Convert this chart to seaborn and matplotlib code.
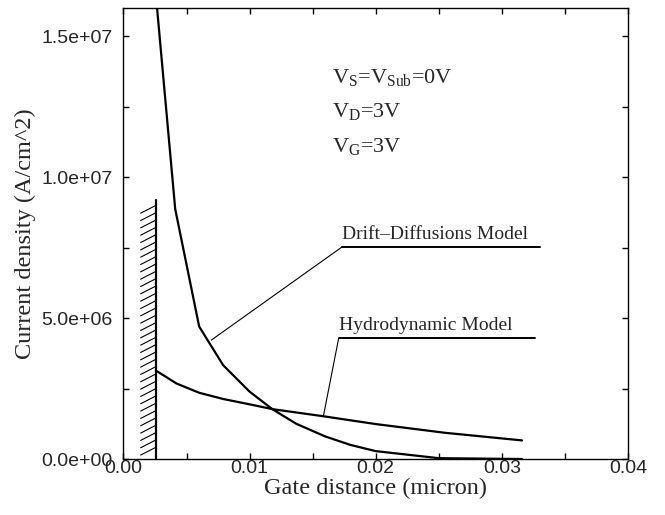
"""
Current density along the gate: drift-diffusion vs hydrodynamic model.
"""

import numpy as np
import pandas as pd
import matplotlib
matplotlib.use("Agg")
import matplotlib.pyplot as plt
from matplotlib.ticker import MultipleLocator, FormatStrFormatter, FuncFormatter
import seaborn as sns

# ── DATA ──────────────────────────────────────
dd_x = [0.0026, 0.0041, 0.0060, 0.0079, 0.0100, 0.0118, 0.0137, 0.0160, 0.0180, 0.0200, 0.0250, 0.0316]
dd_y = [1.63e7, 8.87e6, 4.70e6, 3.33e6, 2.39e6, 1.77e6, 1.25e6, 0.80e6, 0.50e6, 0.28e6, 0.03e6, 0.0]

hd_x = [0.0026, 0.0042, 0.0060, 0.0079, 0.0100, 0.0118, 0.0158, 0.0200, 0.0255, 0.0316]
hd_y = [3.13e6, 2.68e6, 2.35e6, 2.13e6, 1.94e6, 1.77e6, 1.52e6, 1.24e6, 0.93e6, 0.66e6]

wall_x = 0.0026
wall_top = 9.2e6

dd_label = "Drift\u2013Diffusions Model"
hd_label = "Hydrodynamic Model"
# (tip on curve, corner, end of underline)
dd_leader = [(0.00697, 4.22e6), (0.01735, 7.53e6), (0.0330, 7.53e6)]
hd_leader = [(0.01585, 1.52e6), (0.01706, 4.28e6), (0.0326, 4.28e6)]

bias_lines = [r"V$_\mathrm{S}$=V$_\mathrm{Sub}$=0V",
              r"V$_\mathrm{D}$=3V",
              r"V$_\mathrm{G}$=3V"]

# ── STYLE ─────────────────────────────────────
sns.set_theme(style="ticks")
plt.rcParams["font.family"] = ["Liberation Serif", "DejaVu Serif"]
plt.rcParams["mathtext.fontset"] = "custom"
plt.rcParams["mathtext.rm"] = "Liberation Serif"
plt.rcParams["axes.linewidth"] = 1.0
plt.rcParams["axes.edgecolor"] = "black"

SANS = ["Liberation Sans", "DejaVu Sans"]

fig = plt.figure(figsize=(6.65, 5.15), dpi=100, facecolor="white")
ax = fig.add_axes([0.1857, 0.1087, 0.7586, 0.8758])

df_dd = pd.DataFrame({"x": dd_x, "y": dd_y})
df_hd = pd.DataFrame({"x": hd_x, "y": hd_y})
sns.lineplot(data=df_dd, x="x", y="y", color="black", lw=1.6, ax=ax, sort=False)
sns.lineplot(data=df_hd, x="x", y="y", color="black", lw=1.6, ax=ax, sort=False)

# wall with hatching
ax.plot([wall_x, wall_x], [0, wall_top], color="black", lw=1.6)
dx = 0.00124
dy = 2.84e5
step = 2.6e5
y0 = 0.14e6
while y0 + dy <= wall_top - 1e5:
    ax.plot([wall_x - dx, wall_x], [y0, y0 + dy], color="black", lw=0.8)
    y0 += step

# leaders + labels
for pts, label in [(dd_leader, dd_label), (hd_leader, hd_label)]:
    (tx, ty), (cx, cy), (ex, ey) = pts
    ax.plot([tx, cx], [ty, cy], color="black", lw=0.8)
    ax.plot([cx, ex], [cy, ey], color="black", lw=1.4)
    ax.text(cx, cy + 1.5e5, label, fontsize=14, ha="left", va="bottom")

for i, line in enumerate(bias_lines):
    ax.text(0.01656, 1.333e7 - i * 1.22e6, line, fontsize=16, ha="left", va="baseline")

ax.set_xlim(0, 0.04)
ax.set_ylim(0, 1.6e7)
ax.xaxis.set_major_locator(MultipleLocator(0.01))
ax.xaxis.set_minor_locator(MultipleLocator(0.005))
ax.yaxis.set_major_locator(MultipleLocator(5e6))
ax.yaxis.set_minor_locator(MultipleLocator(2.5e6))
ax.xaxis.set_major_formatter(FormatStrFormatter("%.2f"))
ax.yaxis.set_major_formatter(FuncFormatter(lambda v, p: f"{v:.1e}"))
ax.tick_params(which="both", direction="in", top=True, right=True,
               length=4, width=1, color="black")
ax.tick_params(axis="x", pad=1)
ax.tick_params(axis="y", pad=8)
for lab in ax.get_xticklabels() + ax.get_yticklabels():
    lab.set_family(SANS)
    lab.set_fontsize(14)

ax.set_xlabel("Gate distance (micron)", fontsize=17.5, labelpad=0)
ax.set_ylabel("Current density (A/cm^2)", fontsize=17.5, labelpad=4)

plt.savefig("out.png", dpi=100, facecolor="white")
plt.close()
